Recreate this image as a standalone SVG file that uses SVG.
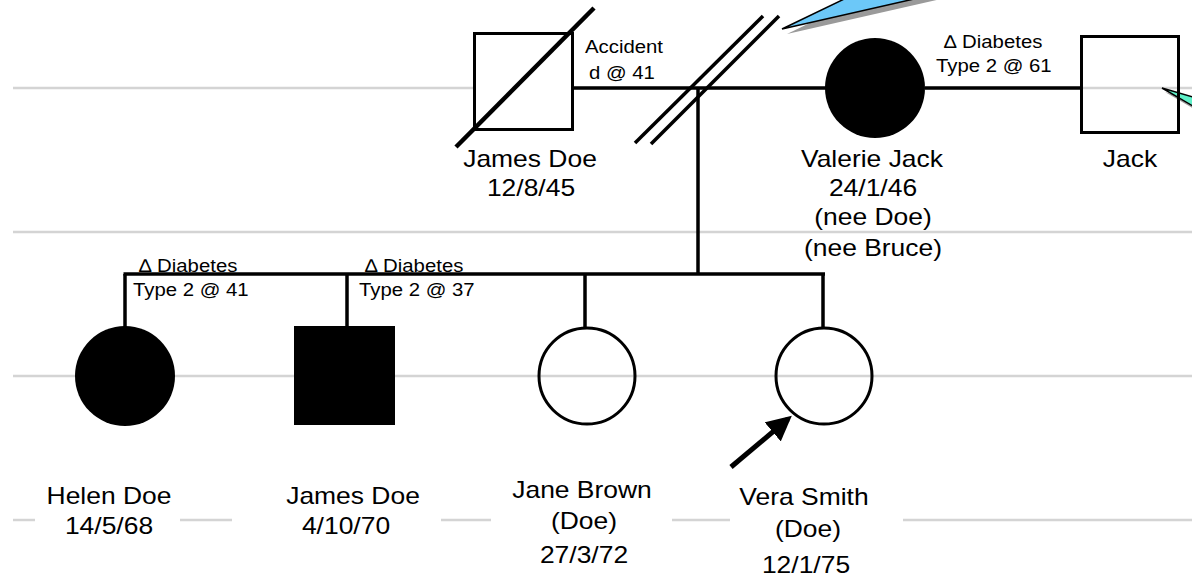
<svg xmlns="http://www.w3.org/2000/svg" width="1192" height="578" viewBox="0 0 1192 578">
<defs>
<style>
.grid{stroke:#d4d4d4;stroke-width:2.5;fill:none}
.ln{stroke:#000;stroke-width:3.5;fill:none;stroke-linecap:butt}
.shape{stroke:#000;stroke-width:3}
.nm{font-family:"Liberation Sans",Arial,sans-serif;font-size:23px;fill:#000;text-anchor:middle}
.an{font-family:"Liberation Sans",Arial,sans-serif;font-size:18.5px;fill:#000}
</style>
<marker id="ah" markerWidth="5" markerHeight="5" refX="4" refY="2.5" orient="auto" markerUnits="strokeWidth">
<path d="M0,0 L5,2.5 L0,5 Z" fill="#000"/>
</marker>
</defs>
<rect width="1192" height="578" fill="#fff"/>
<g id="gridlines">
<line class="grid" x1="13" y1="88" x2="1192" y2="88"/>
<line class="grid" x1="13" y1="232" x2="1192" y2="232"/>
<line class="grid" x1="13" y1="376" x2="1192" y2="376"/>
<line class="grid" x1="13" y1="520" x2="35" y2="520"/>
<line class="grid" x1="180" y1="520" x2="232" y2="520"/>
<line class="grid" x1="441" y1="520" x2="491" y2="520"/>
<line class="grid" x1="672" y1="520" x2="730" y2="520"/>
<line class="grid" x1="903" y1="520" x2="1192" y2="520"/>
</g>
<g id="callouts">
<polygon points="787,34 870,-6 963,-6" fill="#9a9a9a"/>
<polygon points="782,29 865,-11 958,-11" fill="#6cc8f8" stroke="#000" stroke-width="1.5"/>
<polygon points="1165,92 1213,106 1213,120" fill="#9a9a9a"/>
<polygon points="1162,88 1210,102 1210,116" fill="#5ef0c8" stroke="#000" stroke-width="1.5"/>
</g>
<g id="connectors">
<line class="ln" x1="573" y1="88" x2="826" y2="88"/>
<line class="ln" x1="925" y1="88" x2="1081" y2="88"/>
<line class="ln" x1="635" y1="143" x2="763" y2="16"/>
<line class="ln" x1="651" y1="144" x2="779" y2="16"/>
<line class="ln" x1="698" y1="88" x2="698" y2="274"/>
<line class="ln" x1="123.5" y1="274" x2="825" y2="274"/>
<line class="ln" x1="125" y1="274" x2="125" y2="327"/>
<line class="ln" x1="347" y1="274" x2="347" y2="327"/>
<line class="ln" x1="585" y1="274" x2="585" y2="328"/>
<line class="ln" x1="823" y1="274" x2="823" y2="328"/>
<line x1="731" y1="467" x2="788" y2="419" stroke="#000" stroke-width="5" marker-end="url(#ah)"/>
</g>
<g id="james-doe-sr">
<rect class="shape" x="474.5" y="33.5" width="98" height="96" fill="#fff"/>
<line x1="456" y1="147" x2="594" y2="8" stroke="#000" stroke-width="4.5"/>
<text class="an" transform="translate(585,53) scale(1.1,1)">Accident</text>
<text class="an" transform="translate(589,79) scale(1.1,1)">d @ 41</text>
<text class="nm" transform="translate(530,167) scale(1.15,1)">James Doe</text>
<text class="nm" transform="translate(531,196) scale(1.15,1)">12/8/45</text>
</g>
<g id="valerie-jack">
<circle cx="875" cy="88" r="50" fill="#000"/>
<text class="nm" transform="translate(872,167) scale(1.15,1)">Valerie Jack</text>
<text class="nm" transform="translate(873,196) scale(1.15,1)">24/1/46</text>
<text class="nm" transform="translate(873,225) scale(1.15,1)">(nee Doe)</text>
<text class="nm" transform="translate(873,256) scale(1.15,1)">(nee Bruce)</text>
<text class="an" transform="translate(944,48) scale(1.1,1)">∆ Diabetes</text>
<text class="an" transform="translate(936,72) scale(1.1,1)">Type 2 @ 61</text>
</g>
<g id="jack">
<rect class="shape" x="1081.5" y="36.5" width="97" height="96" fill="none"/>
<text class="nm" transform="translate(1130,167) scale(1.15,1)">Jack</text>
</g>
<g id="helen-doe">
<circle cx="125" cy="376" r="50" fill="#000"/>
<text class="an" transform="translate(139,272) scale(1.1,1)">∆ Diabetes</text>
<text class="an" transform="translate(133,296) scale(1.1,1)">Type 2 @ 41</text>
<text class="nm" transform="translate(109,504) scale(1.15,1)">Helen Doe</text>
<text class="nm" transform="translate(109,534) scale(1.15,1)">14/5/68</text>
</g>
<g id="james-doe-jr">
<rect x="294" y="326" width="101" height="99" fill="#000"/>
<text class="an" transform="translate(365,272) scale(1.1,1)">∆ Diabetes</text>
<text class="an" transform="translate(359,296) scale(1.1,1)">Type 2 @ 37</text>
<text class="nm" transform="translate(353,504) scale(1.15,1)">James Doe</text>
<text class="nm" transform="translate(346,534) scale(1.15,1)">4/10/70</text>
</g>
<g id="jane-brown">
<circle class="shape" cx="587" cy="376" r="48" fill="none"/>
<text class="nm" transform="translate(582,498) scale(1.15,1)">Jane Brown</text>
<text class="nm" transform="translate(584,529) scale(1.15,1)">(Doe)</text>
<text class="nm" transform="translate(584,563) scale(1.15,1)">27/3/72</text>
</g>
<g id="vera-smith">
<circle class="shape" cx="824" cy="376" r="48" fill="none"/>
<text class="nm" transform="translate(804,505) scale(1.15,1)">Vera Smith</text>
<text class="nm" transform="translate(808,537) scale(1.15,1)">(Doe)</text>
<text class="nm" transform="translate(806,573) scale(1.15,1)">12/1/75</text>
</g>
</svg>
